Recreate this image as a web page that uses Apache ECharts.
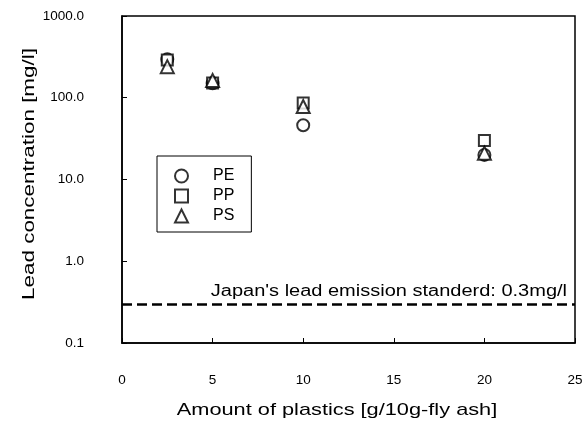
<!DOCTYPE html>
<html>
<head>
<meta charset="utf-8">
<script src="https://cdn.jsdelivr.net/npm/echarts@6/dist/echarts.min.js"></script>
<style>
  html, body { margin: 0; padding: 0; background: #fff; }
  #chart { width: 586px; height: 425px; }
</style>
</head>
<body>
<div id="chart"></div>
<script>
// Lead concentration in leachate vs. amount of plastics added to fly ash
const amounts = [2.5, 5, 10, 20];              // g per 10 g fly ash
const leadPE = [295, 150, 46, 20];             // mg/l
const leadPP = [290, 152, 86, 30];             // mg/l
const leadPS = [240, 163, 78, 21];             // mg/l
const standardLevel = 0.3;                     // mg/l
const standardText = "Japan's lead emission standerd: 0.3mg/l";
const xTitle = 'Amount of plastics [g/10g-fly ash]';
const yTitle = 'Lead concentration [mg/l]';
const yTicks = [0.1, 1, 10, 100, 1000];
const xMax = 25;

const FONT = 'Liberation Sans, Arial, Helvetica, sans-serif';
const GRID = { left: 122, right: 11, top: 16, bottom: 82 };

function pairs(vals) {
  return amounts.map((x, i) => [x, vals[i]]);
}

const chart = echarts.init(document.getElementById('chart'));
chart.setOption({
  animation: false,
  backgroundColor: '#fff',
  grid: Object.assign({ show: true, borderColor: '#000', borderWidth: 1.5 }, GRID),
  legend: {
    orient: 'vertical',
    left: 157, top: 156,
    padding: [10, 17, 6, 17],
    itemGap: 0,
    itemWidth: 13, itemHeight: 13,
    borderColor: '#000', borderWidth: 1,
    borderRadius: 0,
    backgroundColor: '#fff',
    textStyle: {
      fontFamily: FONT, fontSize: 16, color: '#000',
      lineHeight: 20, padding: [0, 0, 0, 20]
    },
    data: ['PE', 'PP', 'PS']
  },
  xAxis: {
    type: 'value', min: 0, max: xMax, interval: 5,
    axisLine: { lineStyle: { color: '#000', width: 1.5 } },
    axisTick: { inside: true, length: 5, lineStyle: { color: '#000' } },
    axisLabel: { margin: 30, fontFamily: FONT, fontSize: 13.5, color: '#000' },
    splitLine: { show: false }
  },
  yAxis: {
    type: 'log', logBase: 10, min: yTicks[0], max: yTicks[yTicks.length - 1],
    axisLine: { show: true, lineStyle: { color: '#000', width: 1.5 } },
    axisTick: { inside: true, length: 5, lineStyle: { color: '#000' } },
    axisLabel: {
      margin: 38, fontFamily: FONT, fontSize: 13.5, color: '#000',
      formatter: v => Number(v).toFixed(1)
    },
    splitLine: { show: false }
  },
  series: [
    {
      name: 'PE', type: 'scatter', data: pairs(leadPE),
      symbol: 'emptyCircle', symbolSize: 12,
      itemStyle: { color: '#000', borderWidth: 1.3 },
      markLine: {
        silent: true, symbol: 'none',
        lineStyle: { color: '#000', type: [10, 5], width: 2.5 },
        label: { show: false },
        data: [{ yAxis: standardLevel }]
      }
    },
    {
      name: 'PP', type: 'scatter', data: pairs(leadPP),
      symbol: 'emptyRect', symbolSize: 11,
      itemStyle: { color: '#000', borderWidth: 1.3 }
    },
    {
      name: 'PS', type: 'scatter', data: pairs(leadPS),
      symbol: 'emptyTriangle', symbolSize: 13,
      itemStyle: { color: '#000', borderWidth: 1.3 }
    }
  ]
});

// Titles and the standard-level note use a wide, horizontally stretched face
const lineEnd = chart.convertToPixel({ gridIndex: 0 }, [xMax, standardLevel]);
chart.setOption({
  graphic: [
    {
      type: 'text', x: 337, y: 410, scaleX: 1.28,
      style: {
        text: xTitle, font: '17px ' + FONT, fill: '#000',
        textAlign: 'center', textVerticalAlign: 'middle'
      }
    },
    {
      type: 'text', x: 29, y: 174, rotation: Math.PI / 2, scaleX: 1.32,
      style: {
        text: yTitle, font: '17px ' + FONT, fill: '#000',
        textAlign: 'center', textVerticalAlign: 'middle'
      }
    },
    {
      type: 'text', x: lineEnd[0] - 8, y: lineEnd[1] - 12.5, scaleX: 1.25,
      style: {
        text: standardText, font: '16px ' + FONT, fill: '#000',
        textAlign: 'right', textVerticalAlign: 'middle'
      }
    }
  ]
});
</script>
</body>
</html>
